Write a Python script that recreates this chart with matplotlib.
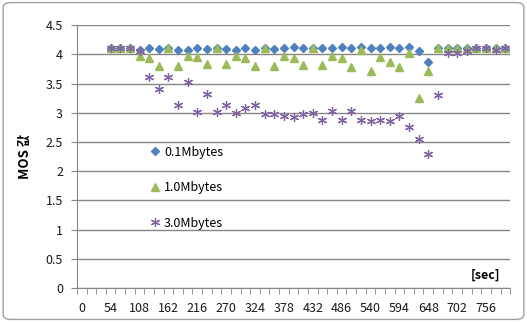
import numpy as np
import matplotlib
matplotlib.use('Agg')
import matplotlib.pyplot as plt
from matplotlib.patches import FancyBboxPatch

plt.rcParams['font.family'] = ['Noto Sans CJK KR', 'DejaVu Sans']

# time categories (sec), one every 18 s
seconds = list(range(0, 793, 18))
nan = np.nan

# MOS values per category (first three categories have no data)
mos_01 = [nan, nan, nan,
          4.1, 4.1, 4.1, 4.07, 4.1, 4.09, 4.1, 4.08, 4.08, 4.1, 4.09, 4.1,
          4.09, 4.08, 4.1, 4.08, 4.1, 4.09, 4.1, 4.12, 4.1, 4.1, 4.1, 4.1,
          4.12, 4.1, 4.12, 4.1, 4.1, 4.12, 4.1, 4.12, 4.05, 3.87, 4.1, 4.1,
          4.1, 4.1, 4.1, 4.1, 4.1, 4.1]
mos_10 = [nan, nan, nan,
          4.1, 4.1, 4.1, 3.97, 3.94, 3.8, 4.1, 3.8, 3.97, 3.95, 3.83, 4.1,
          3.83, 3.97, 3.94, 3.8, 4.1, 3.8, 3.97, 3.93, 3.82, 4.1, 3.82, 3.97,
          3.94, 3.78, 4.08, 3.72, 3.95, 3.87, 3.79, 4.02, 3.25, 3.72, 4.1, 4.1,
          4.1, 4.1, 4.1, 4.1, 4.1, 4.1]
mos_30 = [nan, nan, nan,
          4.1, 4.1, 4.1, 4.05, 3.61, 3.41, 3.61, 3.14, 3.53, 3.02, 3.32, 3.01,
          3.13, 2.99, 3.08, 3.13, 2.97, 2.98, 2.94, 2.92, 2.97, 2.99, 2.88, 3.03,
          2.88, 3.03, 2.88, 2.86, 2.88, 2.86, 2.94, 2.75, 2.55, 2.30, 3.31, 4.03,
          4.03, 4.05, 4.1, 4.1, 4.08, 4.1]

x = np.arange(len(seconds))

fig = plt.figure(figsize=(5.27, 3.22), dpi=100)
ax = fig.add_axes([0.146, 0.1056, 0.822, 0.8164])

# outer chart border
fig.patches.append(FancyBboxPatch((0.006, 0.008), 0.988, 0.984,
                                  boxstyle='round,pad=0,rounding_size=0.015',
                                  transform=fig.transFigure, fill=False,
                                  edgecolor='#a0a0a0', lw=1))

ax.plot(x, mos_01, linestyle='none', marker='D', ms=3.9, color='#4F81BD',
        label='0.1Mbytes')
ax.plot(x, mos_10, linestyle='none', marker='^', ms=6, color='#9BBB59',
        label='1.0Mbytes')
ax.plot(x, mos_30, linestyle='none', marker=(6, 2, 0), ms=6.5, mew=0.9,
        color='#8064A2', label='3.0Mbytes')

ax.set_xlim(-0.5, len(seconds) - 0.5)
ax.set_ylim(0, 4.5)
ax.set_yticks(np.arange(0, 4.51, 0.5))
ax.set_yticklabels(['0', '0.5', '1', '1.5', '2', '2.5', '3', '3.5', '4', '4.5'])
ax.set_xticks(x[::3])
ax.set_xticklabels([str(s) for s in seconds[::3]])
ax.set_xticks(np.arange(-0.5, len(seconds)), minor=True)
ax.tick_params(axis='x', which='major', length=0, pad=10, labelsize=9,
               colors='#1a1a1a')
ax.tick_params(axis='x', which='minor', length=4, direction='out',
               color='#868686')
ax.tick_params(axis='y', length=4, direction='out', color='#868686',
               labelsize=9, labelcolor='#1a1a1a', pad=6)

ax.grid(axis='y', color='#868686', lw=1)
ax.set_axisbelow(True)
for s in ['top', 'right']:
    ax.spines[s].set_visible(False)
for s in ['left', 'bottom']:
    ax.spines[s].set_color('#868686')

ax.set_ylabel('MOS 값', fontsize=9.5, fontweight='bold', labelpad=10)
ax.text(0.977, 0.05, '[sec]', transform=ax.transAxes, ha='right',
        va='center', fontsize=9, fontweight='bold')

ax.legend(loc='upper left', bbox_to_anchor=(0.155, 0.565), frameon=False,
          fontsize=9, labelspacing=1.8, handlelength=0.8, handletextpad=0.3,
          borderpad=0)

fig.savefig('out.png', dpi=100)
